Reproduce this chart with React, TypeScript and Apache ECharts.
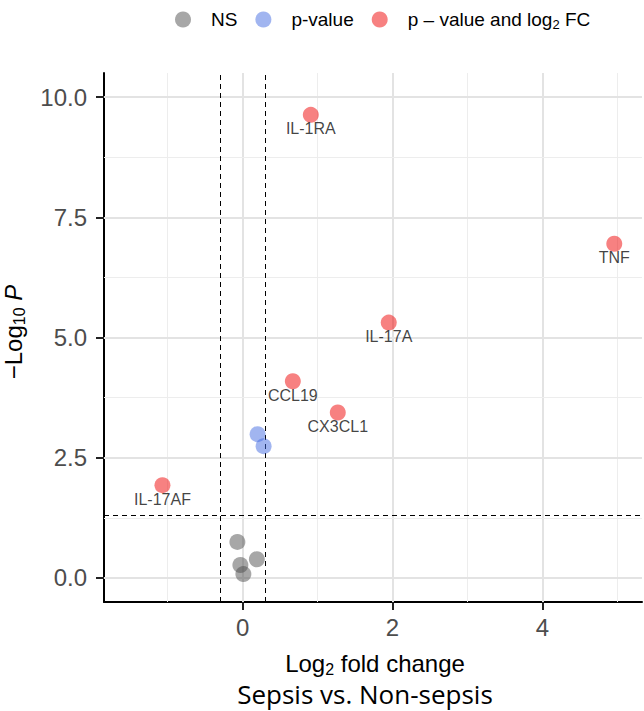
import React, { useEffect, useRef } from 'react';
import * as echarts from 'echarts';

const nsX = [-0.07, -0.03, 0.01, 0.19];
const nsY = [0.75, 0.27, 0.08, 0.39];
const pvX = [0.2, 0.28];
const pvY = [2.99, 2.74];
const sigGenes = ['IL-1RA', 'TNF', 'IL-17A', 'CCL19', 'CX3CL1', 'IL-17AF'];
const sigX = [0.91, 4.96, 1.95, 0.67, 1.27, -1.07];
const sigY = [9.63, 6.95, 5.31, 4.09, 3.44, 1.93];
const xTicks = [0, 2, 4];
const xMinor = [-1, 1, 3, 5];
const yTicks = [0, 2.5, 5, 7.5, 10];
const yMinor = [1.25, 3.75, 6.25, 8.75];
const fcCutoff = [-0.3, 0.3];
const pCutoff = 1.301;
const seriesNames = ['NS', 'p-value', 'p – value and log2 FC'];

const FONT = '"Liberation Sans", Arial, sans-serif';

export default function App() {
  const ref = useRef<HTMLDivElement>(null);
  useEffect(() => {
    if (!ref.current) return;
    const chart = echarts.init(ref.current, undefined, { renderer: 'svg' });
    const majorStyle = { color: '#e3e3e3', width: 2, type: 'solid' };
    const minorStyle = { color: '#ededed', width: 1, type: 'solid' };
    const gridLines = [
      ...xTicks.map((v) => ({ xAxis: v, lineStyle: majorStyle })),
      ...xMinor.map((v) => ({ xAxis: v, lineStyle: minorStyle })),
      ...yTicks.map((v) => ({ yAxis: v, lineStyle: majorStyle })),
      ...yMinor.map((v) => ({ yAxis: v, lineStyle: minorStyle })),
    ];
    const cutLines = [
      ...fcCutoff.map((v) => ({ xAxis: v })),
      { yAxis: pCutoff },
    ];
    const subRich = (size: number, subSize: number, pad: number) => ({
      a: { fontSize: size, fontFamily: FONT, color: '#000', fill: '#000', lineHeight: size + 2 },
      s: {
        fontSize: subSize,
        fontFamily: FONT,
        color: '#000',
        fill: '#000',
        lineHeight: 8,
        padding: [pad, 0, 0, 0],
      },
      i: { fontSize: size, fontFamily: FONT, fontStyle: 'italic', color: '#000', fill: '#000', lineHeight: size + 2 },
    });
    const option: any = {
      animation: false,
      textStyle: { fontFamily: FONT },
      grid: { left: 104, right: 2, top: 73, bottom: 109 },
      legend: {
        data: seriesNames,
        left: 170,
        top: 3,
        icon: 'circle',
        itemWidth: 46,
        itemHeight: 16,
        itemGap: 18,
        textStyle: {
          fontSize: 19,
          color: '#000',
          fontFamily: FONT,
          rich: subRich(19, 13, 10),
        },
        formatter: (name: string) =>
          name === seriesNames[2] ? '{a|p – value and log}{s|2}{a| FC}' : '{a|' + name + '}',
      },
      xAxis: {
        type: 'value',
        min: -1.85,
        max: 5.33,
        axisLine: { show: true, onZero: false, lineStyle: { color: '#000', width: 2 } },
        axisTick: { show: true, customValues: xTicks, length: 8, lineStyle: { color: '#222', width: 2 } },
        axisLabel: { customValues: xTicks, fontSize: 24, color: '#4d4d4d', margin: 13, fontFamily: FONT },
        splitLine: { show: false },
      },
      yAxis: {
        type: 'value',
        min: -0.5,
        max: 10.5,
        axisLine: { show: true, onZero: false, lineStyle: { color: '#000', width: 2 } },
        axisTick: { show: true, customValues: yTicks, length: 8, lineStyle: { color: '#222', width: 2 } },
        axisLabel: {
          customValues: yTicks,
          fontSize: 24,
          color: '#4d4d4d',
          margin: 17,
          fontFamily: FONT,
          formatter: (v: number) => v.toFixed(1),
        },
        splitLine: { show: false },
      },
      series: [
        {
          name: 'grid',
          type: 'scatter',
          data: [],
          z: 1,
          silent: true,
          markLine: { silent: true, symbol: 'none', label: { show: false }, data: gridLines, z: 1 },
        },
        {
          name: 'cutoffs',
          type: 'scatter',
          data: [],
          z: 2,
          silent: true,
          markLine: {
            silent: true,
            symbol: 'none',
            label: { show: false },
            lineStyle: { color: '#000', width: 1, type: [5, 4] },
            data: cutLines,
            z: 2,
          },
        },
        {
          name: seriesNames[0],
          type: 'scatter',
          symbolSize: 16,
          z: 5,
          itemStyle: { color: 'rgba(77,77,77,0.62)' },
          data: nsX.map((x, i) => [x, nsY[i]]),
        },
        {
          name: seriesNames[1],
          type: 'scatter',
          symbolSize: 16,
          z: 5,
          itemStyle: { color: 'rgba(65,105,225,0.62)' },
          data: pvX.map((x, i) => [x, pvY[i]]),
        },
        {
          name: seriesNames[2],
          type: 'scatter',
          symbolSize: 16,
          z: 5,
          itemStyle: { color: 'rgba(238,0,0,0.62)' },
          label: {
            show: true,
            position: 'inside',
            offset: [0, 14],
            fontSize: 16,
            color: '#111',
            fontFamily: FONT,
            formatter: (p: any) => sigGenes[p.dataIndex],
          },
          data: sigX.map((x, i) => [x, sigY[i]]),
        },
      ],
      graphic: [
        {
          type: 'text',
          x: 13,
          y: 332,
          rotation: Math.PI / 2,
          style: {
            text: '{a|−Log}{s|10}{a| }{i|P}',
            align: 'center',
            verticalAlign: 'middle',
            rich: subRich(24, 16, 12),
          },
        },
        {
          type: 'text',
          x: 375,
          y: 663,
          style: {
            text: '{a|Log}{s|2}{a| fold change}',
            align: 'center',
            verticalAlign: 'middle',
            rich: subRich(24, 16, 12),
          },
        },
        {
          type: 'text',
          x: 365,
          y: 694,
          style: {
            text: 'Sepsis vs. Non-sepsis',
            align: 'center',
            verticalAlign: 'middle',
            fontSize: 26,
            lineHeight: 28,
            fontFamily: '"Open Sans", "Noto Sans", sans-serif',
            fill: '#000',
          },
        },
      ],
    };
    chart.setOption(option);
    return () => chart.dispose();
  }, []);
  return <div ref={ref} style={{ width: 644, height: 711, position: 'absolute', left: 0, top: 0 }} />;
}
